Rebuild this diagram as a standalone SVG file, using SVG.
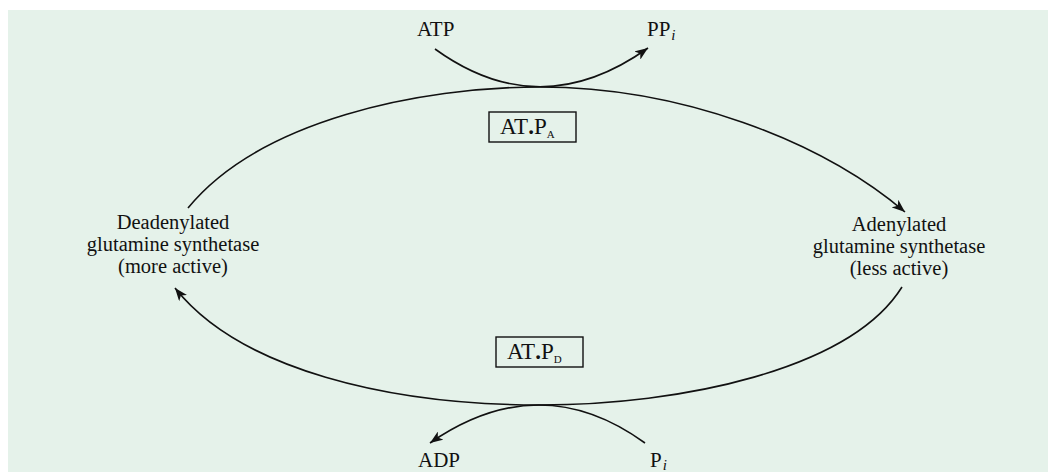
<svg xmlns="http://www.w3.org/2000/svg" width="1048" height="472" viewBox="0 0 1048 472">
<defs>
<style>
text{font-family:"Liberation Serif","Times New Roman",serif;font-size:21px;fill:#111}
.c{text-anchor:middle;font-size:20.5px}
.ln{fill:none;stroke:#111;stroke-width:1.6}
.box{fill:none;stroke:#111;stroke-width:1.4}
.bt{font-size:23px}
.sub{font-size:15px;font-style:italic}
.subs{font-size:11px}
</style>
<marker id="ah" markerWidth="14" markerHeight="10" refX="13" refY="5" orient="auto" markerUnits="userSpaceOnUse">
<path d="M0,0 L13,5 L0,10 L3.5,5 z" fill="#111"/>
</marker>
</defs>
<rect x="8" y="10" width="1040" height="462" fill="#e5f2ea"/>
<g id="connectors">
<path class="ln" d="M188,208 C260,120 420,87 540,87 C680,87 820,140 905,212" marker-end="url(#ah)"/>
<path class="ln" d="M902,287 C850,370 680,405 540,405 C390,405 240,370 175,288" marker-end="url(#ah)"/>
<path class="ln" d="M435,49 Q540,125 648,48" marker-end="url(#ah)"/>
<path class="ln" d="M645,443 Q540,367 430,443" marker-end="url(#ah)"/>
</g>
<g id="deadenylated">
<text class="c" x="173" y="229">Deadenylated</text>
<text class="c" x="173" y="251">glutamine synthetase</text>
<text class="c" x="173" y="273">(more active)</text>
</g>
<g id="adenylated">
<text class="c" x="899" y="231">Adenylated</text>
<text class="c" x="899" y="253">glutamine synthetase</text>
<text class="c" x="899" y="275">(less active)</text>
</g>
<g id="atp"><text x="417" y="36">ATP</text></g>
<g id="ppi"><text x="647" y="36">PP<tspan class="sub" dx="1" dy="4">i</tspan></text></g>
<g id="adp"><text x="418" y="467">ADP</text></g>
<g id="pi"><text x="650" y="467">P<tspan class="sub" dx="1" dy="3">i</tspan></text></g>
<g id="atpa">
<rect class="box" x="489" y="112" width="87" height="30"/>
<text class="bt" x="500" y="134">AT<tspan font-weight="bold">.</tspan>P<tspan class="subs" dy="4">A</tspan></text>
</g>
<g id="atpd">
<rect class="box" x="496" y="337" width="87" height="30"/>
<text class="bt" x="507" y="359">AT<tspan font-weight="bold">.</tspan>P<tspan class="subs" dy="4">D</tspan></text>
</g>
</svg>
